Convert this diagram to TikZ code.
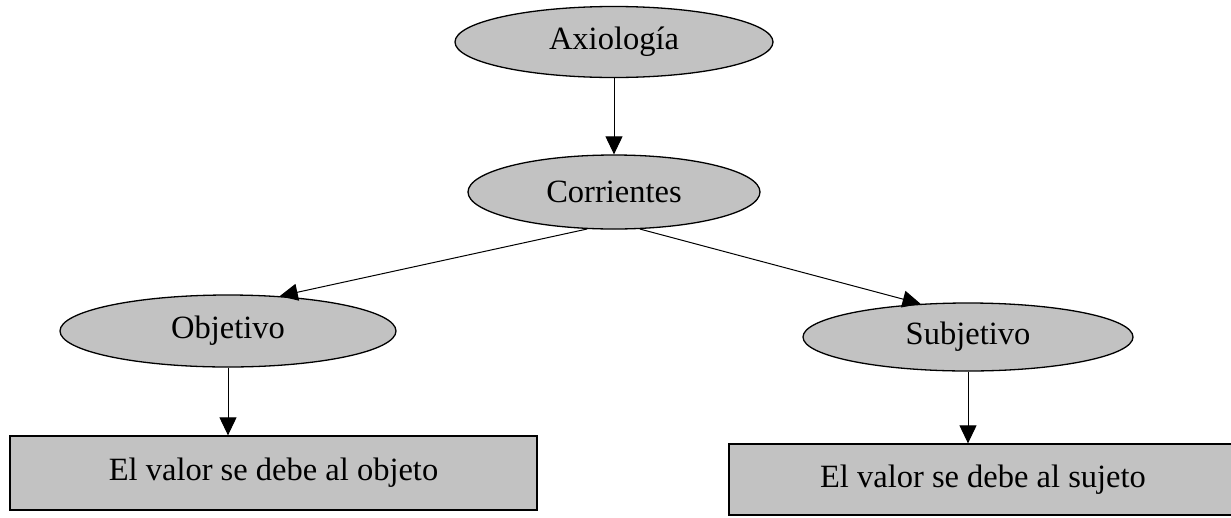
\documentclass[tikz,border=0pt]{standalone}
\usepackage{fontspec}
\setmainfont{Liberation Serif}
\usetikzlibrary{shapes.geometric,arrows.meta}
\begin{document}
\begin{tikzpicture}[x=1pt,y=-1pt,
  oval/.style={ellipse,draw=black,line width=1.3pt,fill=black!24,inner sep=0pt,
    font=\fontsize{32.5}{38}\selectfont},
  rbox/.style={rectangle,draw=black,line width=1.3pt,fill=black!24,inner sep=0pt,
    font=\fontsize{32.5}{38}\selectfont},
  arr/.style={line width=1pt,-{Triangle[length=18pt,width=17pt]}}]
\useasboundingbox[fill=white] (0,0) rectangle (1231,517);
\node[oval,minimum width=318pt,minimum height=71pt] (axi) at (614,42) {Axiología};
\node[oval,minimum width=292pt,minimum height=74pt] (corr) at (614,192) {Corrientes};
\node[oval,minimum width=336pt,minimum height=72pt] (obj) at (228,331) {Objetivo};
\node[oval,minimum width=330pt,minimum height=68pt] (sub) at (968,337) {Subjetivo};
\node[rbox,minimum width=527pt,minimum height=74pt] (lbox) at (273.5,473) {El valor se debe al objeto};
\node[rbox,minimum width=508pt,minimum height=71pt] (rbx) at (983,479.5) {El valor se debe al sujeto};
\draw[arr] (axi.south) -- (corr.north);
\draw[arr] (corr.234) -- (obj.34);
\draw[arr] (corr.305) -- (sub.145);
\draw[arr] (obj.south) -- (obj.south |- lbox.north);
\draw[arr] (sub.south) -- (sub.south |- rbx.north);
\end{tikzpicture}
\end{document}
